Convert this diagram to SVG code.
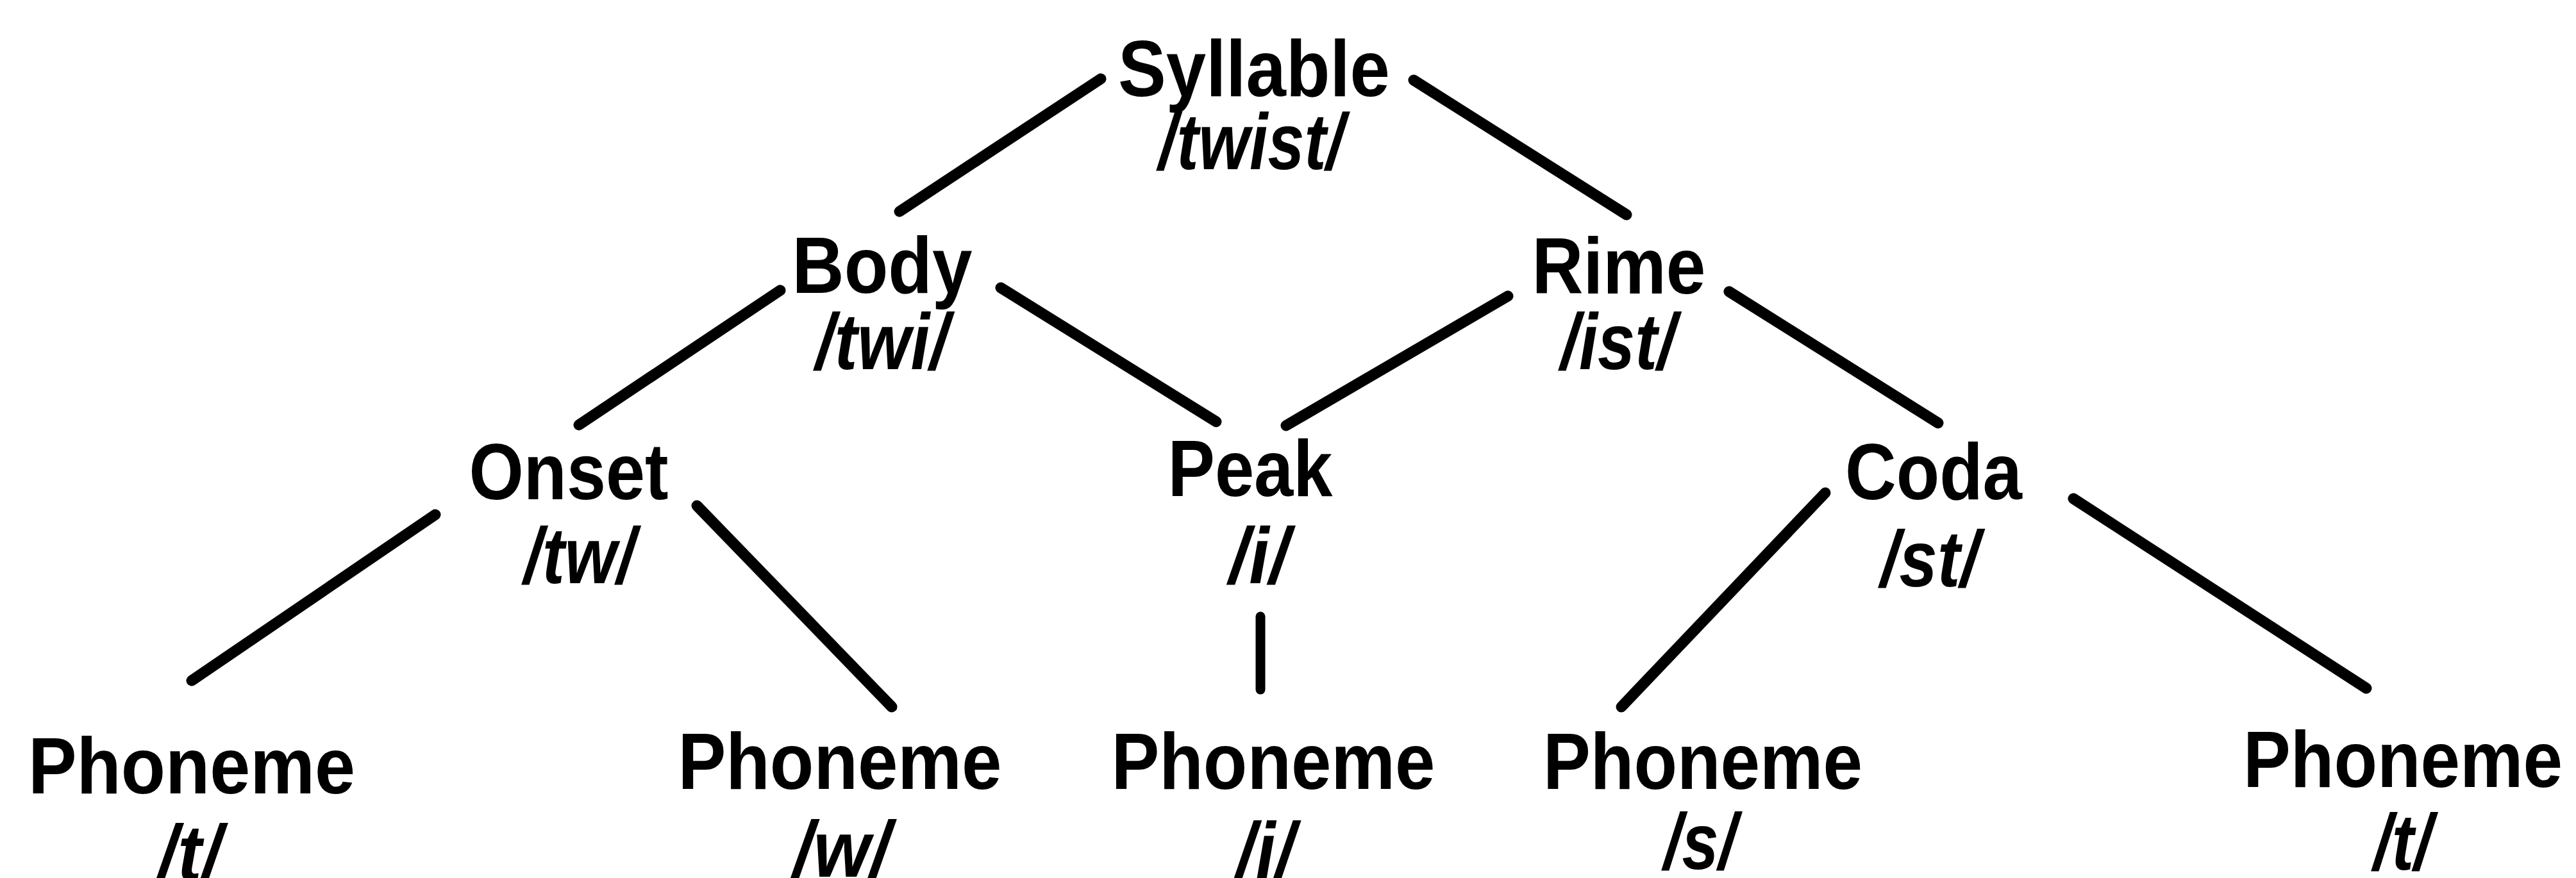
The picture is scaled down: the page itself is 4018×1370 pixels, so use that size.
<svg xmlns="http://www.w3.org/2000/svg" width="4018" height="1370" viewBox="0 0 4018 1370">
  <style>
    .name { font-family: "Liberation Sans", Arial, Helvetica, sans-serif; font-weight: bold; font-size: 124px; fill: #000; text-anchor: middle; }
    .ipa { font-family: "Liberation Sans", Arial, Helvetica, sans-serif; font-weight: bold; font-style: italic; font-size: 124px; fill: #000; text-anchor: middle; }
    .edge { stroke: #000; stroke-width: 17; stroke-linecap: round; fill: none; }
  </style>
  <rect width="4018" height="1370" fill="#fff"/>

  <!-- tree branches -->
  <g id="connectors">
    <line class="edge" x1="1717" y1="123" x2="1403" y2="330"/>
    <line class="edge" x1="2205" y1="125" x2="2537" y2="335"/>
    <line class="edge" x1="1217" y1="453" x2="903" y2="663"/>
    <line class="edge" x1="1561" y1="449" x2="1897" y2="658"/>
    <line class="edge" x1="2352" y1="462" x2="2006" y2="664"/>
    <line class="edge" x1="2697" y1="455" x2="3023" y2="660"/>
    <line class="edge" x1="679" y1="803" x2="299" y2="1062"/>
    <line class="edge" x1="1087" y1="789" x2="1391" y2="1103"/>
    <line class="edge" x1="1966" y1="962" x2="1966" y2="1076" style="stroke-width:15"/>
    <line class="edge" x1="2847" y1="769" x2="2529" y2="1103"/>
    <line class="edge" x1="3234" y1="778" x2="3691" y2="1074"/>
  </g>

  <g id="syllable">
    <text class="name" x="1956" y="150" textLength="424" lengthAdjust="spacingAndGlyphs">Syllable</text>
    <text class="ipa" x="1952" y="264" textLength="290" lengthAdjust="spacingAndGlyphs">/twist/</text>
  </g>
  <g id="body">
    <text class="name" x="1376" y="457" textLength="281" lengthAdjust="spacingAndGlyphs">Body</text>
    <text class="ipa" x="1376" y="576" textLength="208" lengthAdjust="spacingAndGlyphs">/twi/</text>
  </g>
  <g id="rime">
    <text class="name" x="2525" y="458" textLength="271" lengthAdjust="spacingAndGlyphs">Rime</text>
    <text class="ipa" x="2524" y="576" textLength="180" lengthAdjust="spacingAndGlyphs">/ist/</text>
  </g>
  <g id="onset">
    <text class="name" x="887" y="779" textLength="311" lengthAdjust="spacingAndGlyphs">Onset</text>
    <text class="ipa" x="904" y="910" textLength="174" lengthAdjust="spacingAndGlyphs">/tw/</text>
  </g>
  <g id="peak">
    <text class="name" x="1950" y="774" textLength="257" lengthAdjust="spacingAndGlyphs">Peak</text>
    <text class="ipa" x="1964" y="910" textLength="94" lengthAdjust="spacingAndGlyphs">/i/</text>
  </g>
  <g id="coda">
    <text class="name" x="3016" y="779" textLength="276" lengthAdjust="spacingAndGlyphs">Coda</text>
    <text class="ipa" x="3010" y="915" textLength="154" lengthAdjust="spacingAndGlyphs">/st/</text>
  </g>
  <g id="phoneme-t1">
    <text class="name" x="299" y="1238" textLength="510" lengthAdjust="spacingAndGlyphs">Phoneme</text>
    <text class="ipa" x="296" y="1374" textLength="100" lengthAdjust="spacingAndGlyphs">/t/</text>
  </g>
  <g id="phoneme-w">
    <text class="name" x="1310" y="1231" textLength="505" lengthAdjust="spacingAndGlyphs">Phoneme</text>
    <text class="ipa" x="1313" y="1368" textLength="152" lengthAdjust="spacingAndGlyphs">/w/</text>
  </g>
  <g id="phoneme-i">
    <text class="name" x="1986" y="1231" textLength="505" lengthAdjust="spacingAndGlyphs">Phoneme</text>
    <text class="ipa" x="1974" y="1370" textLength="92" lengthAdjust="spacingAndGlyphs">/i/</text>
  </g>
  <g id="phoneme-s">
    <text class="name" x="2656" y="1231" textLength="498" lengthAdjust="spacingAndGlyphs">Phoneme</text>
    <text class="ipa" x="2652" y="1356" textLength="114" lengthAdjust="spacingAndGlyphs">/s/</text>
  </g>
  <g id="phoneme-t2">
    <text class="name" x="3748" y="1228" textLength="498" lengthAdjust="spacingAndGlyphs">Phoneme</text>
    <text class="ipa" x="3748" y="1357" textLength="92" lengthAdjust="spacingAndGlyphs">/t/</text>
  </g>
</svg>
